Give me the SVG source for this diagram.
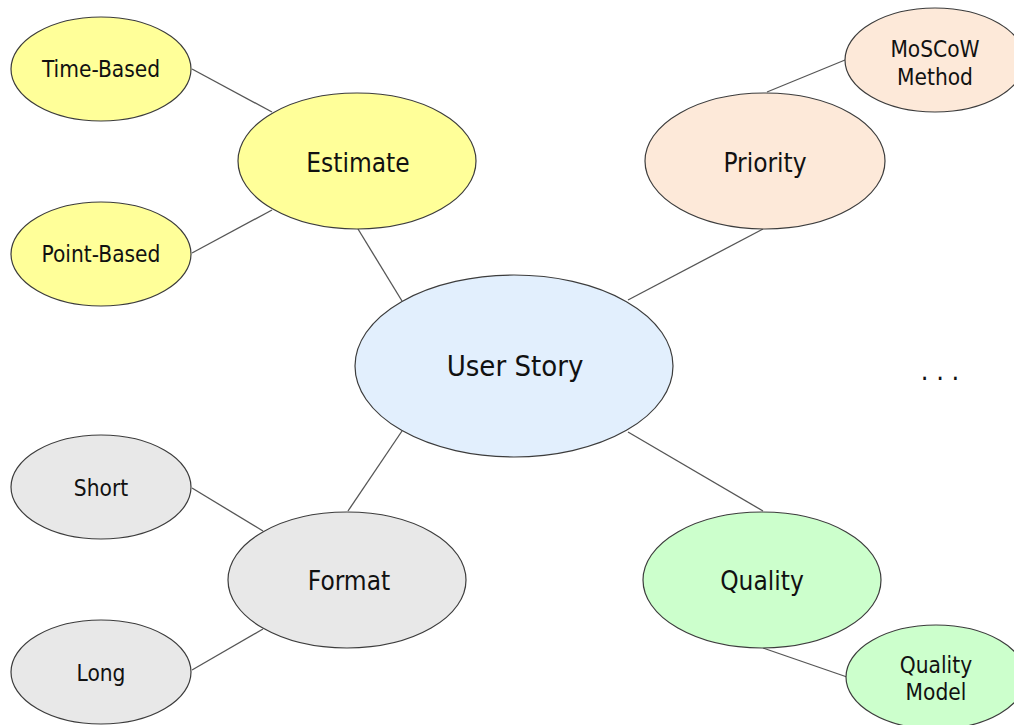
<svg xmlns="http://www.w3.org/2000/svg" width="1014" height="725" viewBox="0 0 1014 725">
<style>
  .n { stroke: #3c3c3c; stroke-width: 1.2; }
  .y { fill: #ffff99; }
  .p { fill: #fde9d9; }
  .b { fill: #e2effd; }
  .g { fill: #e8e8e8; }
  .q { fill: #ccffcc; }
  .c line { stroke: #555555; stroke-width: 1.3; }
  text { font-family: "DejaVu Sans Condensed", "DejaVu Sans", sans-serif; fill: #111111; text-anchor: middle; }
  .s { font-size: 22.5px; }
  .m { font-size: 26px; }
  .l { font-size: 29px; }
</style>
<rect width="1014" height="725" fill="#ffffff"/>
<g id="connectors" class="c">
  <line x1="192" y1="69" x2="272" y2="112"/>
  <line x1="192" y1="253" x2="272" y2="210"/>
  <line x1="358" y1="229" x2="402" y2="301"/>
  <line x1="763" y1="229" x2="628" y2="300"/>
  <line x1="767" y1="92" x2="845" y2="60"/>
  <line x1="402" y1="431" x2="348" y2="511"/>
  <line x1="192" y1="488" x2="263" y2="531"/>
  <line x1="192" y1="670" x2="263" y2="629"/>
  <line x1="628" y1="432" x2="763" y2="511"/>
  <line x1="763" y1="648" x2="847" y2="677"/>
</g>
<g id="user-story">
  <ellipse class="n b" cx="514" cy="366" rx="159" ry="91"/>
  <text class="l" x="515" y="376">User Story</text>
</g>
<g id="estimate">
  <ellipse class="n y" cx="357" cy="161" rx="119" ry="68"/>
  <text class="m" x="358" y="172">Estimate</text>
</g>
<g id="time-based">
  <ellipse class="n y" cx="101" cy="69" rx="90" ry="52"/>
  <text class="s" x="101" y="77">Time-Based</text>
</g>
<g id="point-based">
  <ellipse class="n y" cx="101" cy="254" rx="90" ry="52"/>
  <text class="s" x="101" y="262">Point-Based</text>
</g>
<g id="priority">
  <ellipse class="n p" cx="765" cy="161" rx="120" ry="68"/>
  <text class="m" x="765" y="172">Priority</text>
</g>
<g id="moscow">
  <ellipse class="n p" cx="935" cy="60" rx="90" ry="52"/>
  <text class="s" x="935" y="57">MoSCoW</text>
  <text class="s" x="935" y="85">Method</text>
</g>
<g id="format">
  <ellipse class="n g" cx="347" cy="580" rx="119" ry="68"/>
  <text class="m" x="349" y="590">Format</text>
</g>
<g id="short">
  <ellipse class="n g" cx="101" cy="487" rx="90" ry="52"/>
  <text class="s" x="101" y="496">Short</text>
</g>
<g id="long">
  <ellipse class="n g" cx="101" cy="672" rx="90" ry="52"/>
  <text class="s" x="101" y="681">Long</text>
</g>
<g id="quality">
  <ellipse class="n q" cx="762" cy="580" rx="119" ry="68"/>
  <text class="m" x="762" y="590">Quality</text>
</g>
<g id="quality-model">
  <ellipse class="n q" cx="936" cy="677" rx="90" ry="52"/>
  <text class="s" x="936" y="673">Quality</text>
  <text class="s" x="936" y="700">Model</text>
</g>
<g id="ellipsis">
  <text x="940" y="380" style="font-size:27px">. . .</text>
</g>
</svg>
